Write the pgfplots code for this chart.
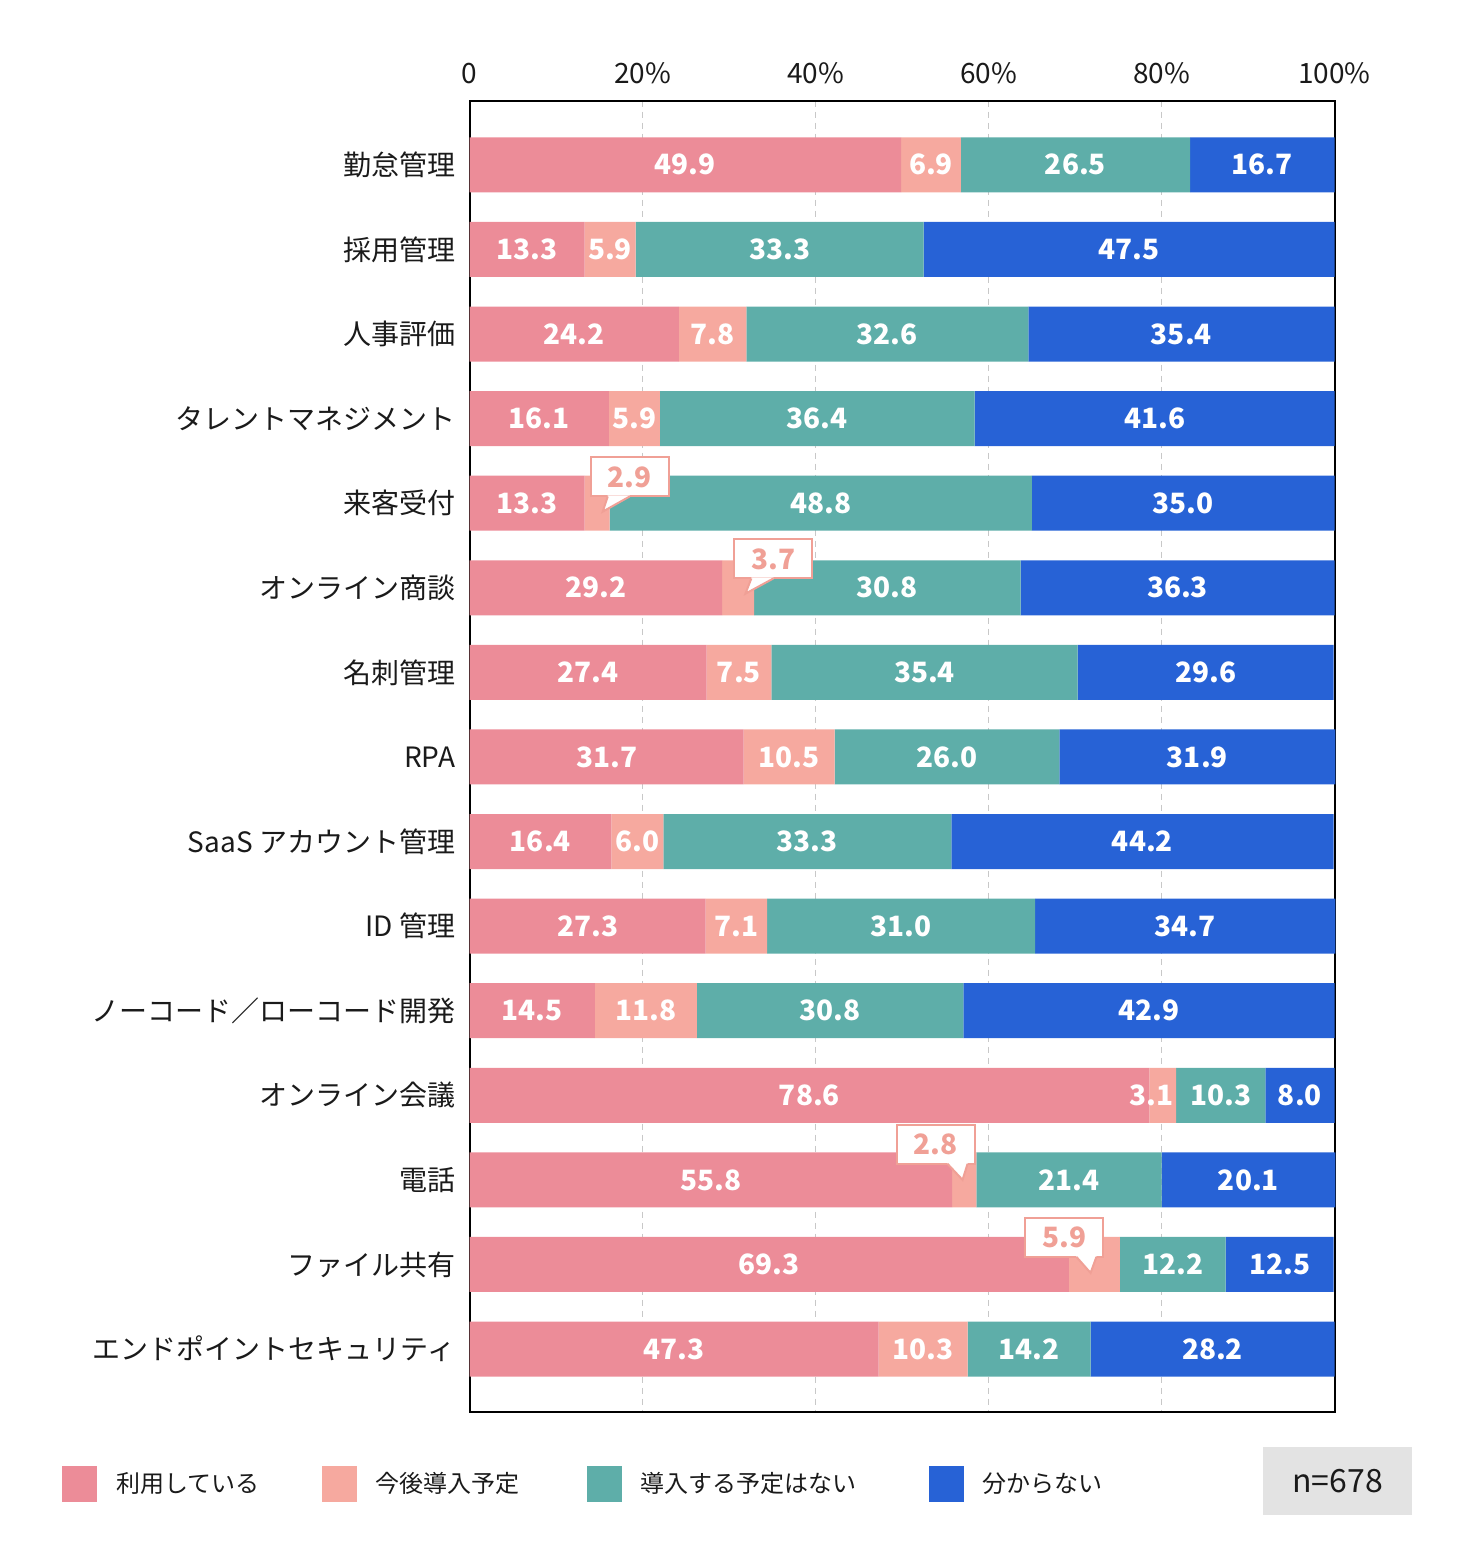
\documentclass[border=0pt]{standalone}
\usepackage{pgfplots}
\pgfplotsset{compat=1.18}
\usepackage{pgfplotstable}
\usepackage{fontspec}
\setmainfont{Noto Sans CJK JP}

\definecolor{cPink}{HTML}{EC8C98}
\definecolor{cSalmon}{HTML}{F6A99F}
\definecolor{cTeal}{HTML}{5EAEA9}
\definecolor{cBlue}{HTML}{2762D6}
\definecolor{cCall}{HTML}{F0A096}
\definecolor{cGrid}{HTML}{C8C8C8}
\definecolor{cNbg}{HTML}{E3E3E3}
\definecolor{cTxt}{HTML}{1A1A1A}

% r: row, a: 利用している, b: 今後導入予定, c: 導入する予定はない, d: 分からない
% bc: 1 = value of b shown in a callout, bs: shift of b label
\pgfplotstableread{
r a b c d bc bs
0 49.9 6.9 26.5 16.7 0 0
1 13.3 5.9 33.3 47.5 0 0
2 24.2 7.8 32.6 35.4 0 0
3 16.1 5.9 36.4 41.6 0 0
4 13.3 2.9 48.8 35.0 1 0
5 29.2 3.7 30.8 36.3 1 0
6 27.4 7.5 35.4 29.6 0 0
7 31.7 10.5 26.0 31.9 0 0
8 16.4 6.0 33.3 44.2 0 0
9 27.3 7.1 31.0 34.7 0 0
10 14.5 11.8 30.8 42.9 0 0
11 78.6 3.1 10.3 8.0 0 -1.3
12 55.8 2.8 21.4 20.1 1 0
13 69.3 5.9 12.2 12.5 1 0
14 47.3 10.3 14.2 28.2 0 0
}\data

\tikzset{
  vlab/.style={text=white, font=\fontsize{14}{16}\selectfont\bfseries, inner sep=0pt},
  cbox/.style={draw=cCall, line width=1pt, fill=white, text=cCall,
    font=\fontsize{14}{16}\selectfont\bfseries, minimum width=39pt, minimum height=19.5pt, inner sep=0pt},
}

% left-tailed callout: #1 box west anchor coordinate, #2 apex coordinate, #3 text
\newcommand\calloutL[3]{%
  \node[cbox,anchor=west] at (#1) {#3};
  \fill[white] ([xshift=9pt,yshift=-9.2pt]#1) -- ([xshift=9pt,yshift=-9.75pt]#1) -- (#2) -- ([xshift=20pt,yshift=-9.75pt]#1) -- ([xshift=20pt,yshift=-9.2pt]#1) -- cycle;
  \draw[cCall,line width=1pt] ([xshift=9pt,yshift=-9.75pt]#1) -- (#2) -- ([xshift=20pt,yshift=-9.75pt]#1);
}
% right-tailed callout: #1 box east anchor coordinate, #2 apex coordinate, #3 text
\newcommand\calloutR[3]{%
  \node[cbox,anchor=east] at (#1) {#3};
  \fill[white] ([xshift=-14pt,yshift=-9.2pt]#1) -- ([xshift=-14pt,yshift=-9.75pt]#1) -- (#2) -- ([xshift=-4pt,yshift=-9.75pt]#1) -- ([xshift=-4pt,yshift=-9.2pt]#1) -- cycle;
  \draw[cCall,line width=1pt] ([xshift=-14pt,yshift=-9.75pt]#1) -- (#2) -- ([xshift=-4pt,yshift=-9.75pt]#1);
}

\begin{document}
\begin{tikzpicture}
\useasboundingbox (0,0) rectangle (730.5pt,-778.5pt);
\begin{axis}[
  at={(234.75pt,-50.35pt)}, anchor=north west,
  scale only axis, width=432.5pt, height=655.5pt,
  xbar stacked, bar width=27.5pt,
  xmin=0, xmax=100,
  ymin=-0.758, ymax=14.741, y dir=reverse,
  clip=false,
  axis line style={black, line width=1pt},
  xtick={0,20,40,60,80,100},
  xticklabels={0,20\%,40\%,60\%,80\%,100\%},
  xticklabel pos=upper,
  xticklabel style={anchor=center, yshift=13.5pt, font=\fontsize{14}{16}\selectfont, text=cTxt},
  xtick style={draw=none},
  xmajorgrids,
  major x grid style={cGrid, line width=0.6pt, dash pattern=on 3pt off 2.5pt},
  ytick={0,...,14},
  yticklabels={勤怠管理,採用管理,人事評価,タレントマネジメント,来客受付,オンライン商談,名刺管理,RPA,SaaS アカウント管理,ID 管理,ノーコード／ローコード開発,オンライン会議,電話,ファイル共有,エンドポイントセキュリティ},
  yticklabel style={anchor=east, inner sep=0pt, xshift=-7pt, font=\fontsize{14}{16}\selectfont, text=cTxt},
  ytick style={draw=none},
  legend columns=4,
  legend cell align=left,
  legend style={at={(axis description cs:-0.4711,-0.0551)}, anchor=west,
    draw=none, fill=none, inner sep=0pt,
    font=\fontsize{12}{14}\selectfont, text=cTxt,
    /tikz/every odd column/.append style={column sep=7.5pt},
    /tikz/column 2/.append style={column sep=29pt},
    /tikz/column 4/.append style={column sep=31.5pt},
    /tikz/column 6/.append style={column sep=34pt}},
  legend image code/.code={\fill[#1] (0pt,-9pt) rectangle (17.5pt,9pt);},
]
\addplot[fill=cPink, draw=none] table[x=a, y=r]{\data};
\addplot[fill=cSalmon, draw=none] table[x=b, y=r]{\data};
\addplot[fill=cTeal, draw=none] table[x=c, y=r]{\data};
\addplot[fill=cBlue, draw=none] table[x=d, y=r]{\data};
\legend{利用している,今後導入予定,導入する予定はない,分からない}

\pgfplotsforeachungrouped \rr in {0,...,14}{%
  \pgfplotstablegetelem{\rr}{a}\of\data \let\va\pgfplotsretval
  \pgfplotstablegetelem{\rr}{b}\of\data \let\vb\pgfplotsretval
  \pgfplotstablegetelem{\rr}{c}\of\data \let\vc\pgfplotsretval
  \pgfplotstablegetelem{\rr}{d}\of\data \let\vd\pgfplotsretval
  \pgfplotstablegetelem{\rr}{bs}\of\data \let\vbs\pgfplotsretval
  \pgfmathsetmacro\xa{\va/2}%
  \pgfmathsetmacro\xb{\va+\vb/2+\vbs}%
  \pgfmathsetmacro\xc{\va+\vb+\vc/2}%
  \pgfmathsetmacro\xd{\va+\vb+\vc+\vd/2}%
  \edef\tmp{\noexpand\coordinate (pa\rr) at (axis cs:\xa,\rr);
    \noexpand\coordinate (pb\rr) at (axis cs:\xb,\rr);
    \noexpand\coordinate (pc\rr) at (axis cs:\xc,\rr);
    \noexpand\coordinate (pd\rr) at (axis cs:\xd,\rr);}%
  \tmp
}
\coordinate (k1) at (axis cs:13.9,3.69);  \coordinate (q1) at (axis cs:15.4,4.1);
\coordinate (k2) at (axis cs:30.5,4.66);  \coordinate (q2) at (axis cs:31.9,5.07);
\coordinate (k3) at (axis cs:58.5,11.58); \coordinate (q3) at (axis cs:57.0,12.0);
\coordinate (k4) at (axis cs:73.4,12.68); \coordinate (q4) at (axis cs:71.8,13.1);
\end{axis}

\pgfplotsforeachungrouped \rr in {0,...,14}{%
  \pgfplotstablegetelem{\rr}{a}\of\data \let\va\pgfplotsretval
  \pgfplotstablegetelem{\rr}{b}\of\data \let\vb\pgfplotsretval
  \pgfplotstablegetelem{\rr}{c}\of\data \let\vc\pgfplotsretval
  \pgfplotstablegetelem{\rr}{d}\of\data \let\vd\pgfplotsretval
  \pgfplotstablegetelem{\rr}{bc}\of\data \let\vbc\pgfplotsretval
  \node[vlab] at (pa\rr) {\va};
  \node[vlab] at (pc\rr) {\vc};
  \node[vlab] at (pd\rr) {\vd};
  \ifnum\vbc=0 \node[vlab] at (pb\rr) {\vb};\fi
}
\calloutL{k1}{q1}{2.9}
\calloutL{k2}{q2}{3.7}
\calloutR{k3}{q3}{2.8}
\calloutR{k4}{q4}{5.9}

\node[fill=cNbg, minimum width=74.5pt, minimum height=34pt, inner sep=0pt,
  font=\fontsize{16}{18}\selectfont, text=cTxt] at (668.75pt,-740.5pt) {n=678};
\end{tikzpicture}
\end{document}
